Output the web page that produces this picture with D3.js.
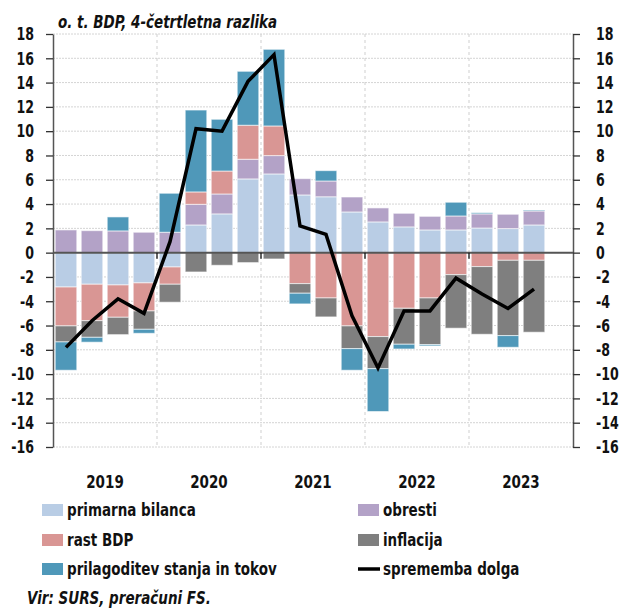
<!DOCTYPE html>
<html lang="sl">
<head>
<meta charset="UTF-8">
<title>Sprememba dolga</title>
<style>
  body { margin: 0; background: #fff; }
  svg text { font-family: "DejaVu Sans", sans-serif; font-weight: bold; fill: #111; }
  /* the reference uses a condensed face, squeeze the glyphs sideways */
  .sq-start, .sq-mid, .sq-end, .sq-tick { transform-box: fill-box; }
  .sq-start { transform-origin: 0% 50%; transform: scaleX(0.75); }
  .sq-mid { transform-origin: 50% 50%; transform: scaleX(0.75); }
  .sq-end { transform-origin: 100% 50%; transform: scaleX(0.7); }
  .sq-tick { transform-origin: 0% 50%; transform: scaleX(0.7); }
</style>
</head>
<body>
<svg id="chart" width="620" height="610"></svg>
<script src="https://d3js.org/d3.v7.min.js"></script>
<script>
// quarters on the axis (last slot empty)
const quarters = ["2019Q1","2019Q2","2019Q3","2019Q4","2020Q1","2020Q2","2020Q3","2020Q4",
                  "2021Q1","2021Q2","2021Q3","2021Q4","2022Q1","2022Q2","2022Q3","2022Q4",
                  "2023Q1","2023Q2","2023Q3","2023Q4"];
const years = ["2019","2020","2021","2022","2023"];
const yTicks = [-16,-14,-12,-10,-8,-6,-4,-2,0,2,4,6,8,10,12,14,16,18];

// contributions, % of GDP
const primarnaBilanca = [-2.83,-2.6,-2.66,-2.49,-1.18,2.28,3.19,6.07,6.48,4.75,4.6,3.35,2.53,2.12,1.87,1.87,2.03,1.98,2.28];
const obresti         = [1.87,1.81,1.79,1.68,1.68,1.7,1.64,1.62,1.51,1.34,1.3,1.23,1.15,1.12,1.12,1.15,1.16,1.18,1.15];
const rastBDP         = [-3.2,-3.0,-2.66,-2.31,-1.42,1.02,1.89,2.8,2.44,-2.55,-3.73,-6.03,-6.91,-4.58,-3.73,-1.81,-1.15,-0.63,-0.63];
const inflacija       = [-1.32,-1.37,-1.43,-1.51,-1.48,-1.59,-1.04,-0.82,-0.52,-0.79,-1.56,-1.87,-2.64,-2.96,-3.84,-4.41,-5.57,-6.2,-5.92];
const prilagoditev    = [-2.33,-0.4,1.15,-0.33,3.21,6.74,4.26,4.44,6.31,-0.88,0.85,-1.78,-3.53,-0.39,-0.11,1.13,0.1,-0.96,0.08];
const spremembaDolga  = [-7.8,-5.6,-3.8,-5.0,0.9,10.2,10.0,14.1,16.3,2.2,1.5,-5.2,-9.5,-4.8,-4.8,-2.1,-3.4,-4.6,-3.0];

const series = [
  { key: "primarna", label: "primarna bilanca", values: primarnaBilanca, color: "#b9cde5" },
  { key: "obresti", label: "obresti", values: obresti, color: "#b3a2c7" },
  { key: "rast", label: "rast BDP", values: rastBDP, color: "#d99694" },
  { key: "inflacija", label: "inflacija", values: inflacija, color: "#7f7f7f" },
  { key: "prilagoditev", label: "prilagoditev stanja in tokov", values: prilagoditev, color: "#4f98b9" }
];

// one row per quarter for the stack
const rows = spremembaDolga.map((v, i) => {
  const r = { q: quarters[i], dolg: v };
  series.forEach(s => { r[s.key] = s.values[i]; });
  return r;
});

const svg = d3.select("#chart");
const plotLeft = 53, plotRight = 573, plotTop = 34, plotBottom = 447;

const x = d3.scaleBand().domain(quarters).range([plotLeft, plotRight])
  .paddingInner(0.17).paddingOuter(0.085);
const y = d3.scaleLinear().domain([-16, 18]).range([plotBottom, plotTop]);
const color = d3.scaleOrdinal().domain(series.map(s => s.key)).range(series.map(s => s.color));

// horizontal grid
svg.append("g")
  .selectAll("line")
  .data(yTicks)
  .join("line")
  .attr("x1", plotLeft).attr("x2", plotRight)
  .attr("y1", d => y(d)).attr("y2", d => y(d))
  .attr("stroke", "#d4d4d4")
  .attr("stroke-width", 1)
  .attr("stroke-dasharray", "2,1");

// year separators
const boundary = q => x(q) - x.step() * x.paddingInner() / 2;
const yearStarts = ["2020Q1","2021Q1","2022Q1","2023Q1"];
svg.append("g")
  .selectAll("line")
  .data(yearStarts)
  .join("line")
  .attr("x1", d => boundary(d)).attr("x2", d => boundary(d))
  .attr("y1", plotTop).attr("y2", plotBottom)
  .attr("stroke", "#cfcfcf")
  .attr("stroke-width", 1)
  .attr("stroke-dasharray", "3,3");

// stacked bars
const stack = d3.stack()
  .keys(series.map(s => s.key))
  .offset(d3.stackOffsetDiverging);
const stacked = stack(rows);

svg.append("g")
  .selectAll("g")
  .data(stacked)
  .join("g")
  .attr("fill", d => color(d.key))
  .selectAll("rect")
  .data(d => d)
  .join("rect")
  .attr("x", d => x(d.data.q))
  .attr("width", x.bandwidth())
  .attr("y", d => y(Math.max(d[0], d[1])))
  .attr("height", d => Math.abs(y(d[0]) - y(d[1])))
  .attr("stroke", "#ffffff")
  .attr("stroke-opacity", 0.6)
  .attr("stroke-width", 1);

// axes (plain hyphen for negatives, like the reference)
const fmt = d => String(d);
const leftAxis = svg.append("g")
  .attr("transform", `translate(${plotLeft},0)`)
  .call(d3.axisLeft(y).tickValues(yTicks).tickFormat(fmt).tickSize(7).tickSizeOuter(0).tickPadding(12));
const rightAxis = svg.append("g")
  .attr("transform", `translate(${plotRight},0)`)
  .call(d3.axisRight(y).tickValues(yTicks).tickFormat(fmt).tickSize(7).tickSizeOuter(0).tickPadding(16));

[leftAxis, rightAxis].forEach(a => {
  a.attr("font-family", null).attr("font-size", null);
  a.select(".domain").attr("stroke", "#555").attr("stroke-width", 1.5);
  a.selectAll(".tick line").attr("stroke", "#333").attr("stroke-width", 1.3);
  a.selectAll(".tick text")
    .style("font-size", "18px")
    .attr("fill", "#111");
});
leftAxis.selectAll(".tick text").attr("class", "sq-end");
rightAxis.selectAll(".tick text").attr("class", "sq-tick");

// zero line
svg.append("line")
  .attr("x1", plotLeft).attr("x2", plotRight)
  .attr("y1", y(0)).attr("y2", y(0))
  .attr("stroke", "#555")
  .attr("stroke-width", 2);

svg.append("g")
  .selectAll("line")
  .data(yearStarts)
  .join("line")
  .attr("x1", d => boundary(d)).attr("x2", d => boundary(d))
  .attr("y1", y(0)).attr("y2", y(0) + 6)
  .attr("stroke", "#111")
  .attr("stroke-width", 1.3);

// debt change line
const line = d3.line()
  .x(d => x(d.q) + x.bandwidth() / 2)
  .y(d => y(d.dolg));

svg.append("path")
  .datum(rows)
  .attr("d", line)
  .attr("fill", "none")
  .attr("stroke", "#000")
  .attr("stroke-width", 3.5)
  .attr("stroke-linejoin", "miter");

// year labels
svg.append("g")
  .selectAll("text")
  .data(years)
  .join("text")
  .attr("class", "sq-mid")
  .attr("x", d => boundary(d + "Q1") + x.step() * 2)
  .attr("y", 488)
  .attr("text-anchor", "middle")
  .style("font-size", "18px")
  .text(d => d);

// title
svg.append("text")
  .attr("class", "sq-start")
  .attr("x", 58)
  .attr("y", 28)
  .style("font-size", "18px")
  .style("font-style", "italic")
  .text("o. t. BDP, 4-četrtletna razlika");

// legend
const legendItems = [
  { label: "primarna bilanca", color: "#b9cde5", col: 0, row: 0 },
  { label: "obresti", color: "#b3a2c7", col: 1, row: 0 },
  { label: "rast BDP", color: "#d99694", col: 0, row: 1 },
  { label: "inflacija", color: "#7f7f7f", col: 1, row: 1 },
  { label: "prilagoditev stanja in tokov", color: "#4f98b9", col: 0, row: 2 },
  { label: "sprememba dolga", line: true, col: 1, row: 2 }
];
const colX = [42, 358];
const rowY = [510, 540, 569];

const legend = svg.append("g");
legendItems.forEach(d => {
  const g = legend.append("g").attr("transform", `translate(${colX[d.col]},${rowY[d.row]})`);
  if (d.line) {
    g.append("line").attr("x1", 0).attr("x2", 22).attr("y1", 0).attr("y2", 0)
      .attr("stroke", "#000").attr("stroke-width", 3.5);
  } else {
    g.append("rect").attr("x", 0).attr("y", -6).attr("width", 21).attr("height", 12)
      .attr("fill", d.color);
  }
  g.append("text")
    .attr("class", "sq-start")
    .attr("x", 25)
    .attr("y", 6)
    .style("font-size", "18px")
    .text(d.label);
});

// source
svg.append("text")
  .attr("class", "sq-start")
  .attr("x", 27)
  .attr("y", 604)
  .style("font-size", "18px")
  .style("font-style", "italic")
  .text("Vir: SURS, preračuni FS.");
</script>
</body>
</html>
